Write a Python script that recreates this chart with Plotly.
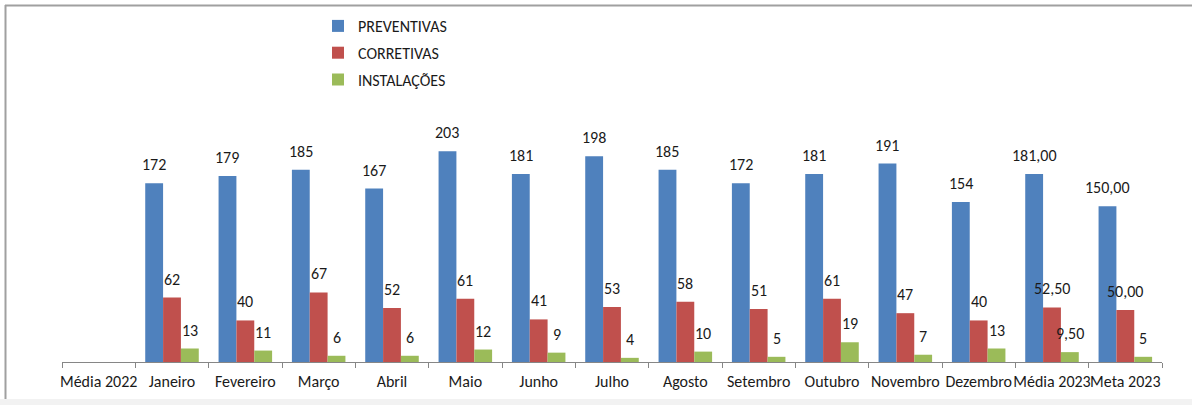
import plotly.graph_objects as go

categorias = ["Média 2022", "Janeiro", "Fevereiro", "Março", "Abril", "Maio", "Junho",
              "Julho", "Agosto", "Setembro", "Outubro", "Novembro", "Dezembro",
              "Média 2023", "Meta 2023"]

preventivas = [None, 172, 179, 185, 167, 203, 181, 198, 185, 172, 181, 191, 154, 181.00, 150.00]
corretivas = [None, 62, 40, 67, 52, 61, 41, 53, 58, 51, 61, 47, 40, 52.50, 50.00]
instalacoes = [None, 13, 11, 6, 6, 12, 9, 4, 10, 5, 19, 7, 13, 9.50, 5]

# casas decimais exibidas em cada rótulo
dec_preventivas = [0] * 13 + [2, 2]
dec_corretivas = [0] * 13 + [2, 2]
dec_instalacoes = [0] * 13 + [2, 0]

series = [
    ("PREVENTIVAS", preventivas, dec_preventivas, "#4F81BD"),
    ("CORRETIVAS", corretivas, dec_corretivas, "#C0504D"),
    ("INSTALAÇÕES", instalacoes, dec_instalacoes, "#9BBB59"),
]

FONT = "Liberation Sans Narrow, Carlito, Arial Narrow, Liberation Sans, sans-serif"

W, H = 1192, 405
ML, MR, MT, MB = 62, 30, 40, 43
YMAX = 310
BARGAP = 0.27


def fmt(v, d):
    return f"{v:.{d}f}".replace(".", ",")


fig = go.Figure()
for i, (nome, vals, decs, cor) in enumerate(series):
    fig.add_trace(go.Bar(
        name=nome, x=categorias, y=vals, marker_color=cor,
        marker_line_width=0, legendgroup=nome,
    ))

# rótulos de valor acima de cada barra
cat_w = (W - ML - MR) / len(categorias)
bar_w = cat_w * (1 - BARGAP) / len(series)
annotations = []
for i, (nome, vals, decs, cor) in enumerate(series):
    for c, v, d in zip(categorias, vals, decs):
        if v is None:
            continue
        annotations.append(dict(
            x=c, y=v, xref="x", yref="y", text=fmt(v, d), showarrow=False,
            xanchor="center", yanchor="bottom", xshift=(i - 1) * bar_w, yshift=7,
            font=dict(family=FONT, size=16, color="#1a1a1a"),
        ))

plot_h = H - MT - MB
plot_w = W - ML - MR


def px_x(px):
    return (px - ML) / plot_w


def px_y(py):
    return (H - MB - py) / plot_h


shapes = [
    # moldura cinza (topo e lateral esquerda)
    dict(type="line", xref="paper", yref="paper", x0=px_x(5), x1=px_x(W + 5),
         y0=px_y(5.5), y1=px_y(5.5), line=dict(color="#a0a0a0", width=2)),
    dict(type="line", xref="paper", yref="paper", x0=px_x(5.5), x1=px_x(5.5),
         y0=px_y(5), y1=px_y(399), line=dict(color="#a0a0a0", width=2)),
    dict(type="rect", xref="paper", yref="paper", x0=px_x(0), x1=px_x(W),
         y0=px_y(399), y1=px_y(H + 2), line=dict(width=0), fillcolor="#f2f2f2", layer="below"),
]

fig.update_layout(
    width=W, height=H,
    margin=dict(l=ML, r=MR, t=MT, b=MB, autoexpand=False),
    paper_bgcolor="white", plot_bgcolor="white",
    barmode="group", bargap=BARGAP, bargroupgap=0,
    font=dict(family=FONT, size=16, color="#1a1a1a"),
    legend=dict(
        x=px_x(318), y=px_y(9), xanchor="left", yanchor="top",
        font=dict(family=FONT, size=16, color="#1a1a1a"),
        tracegroupgap=3, bgcolor="rgba(0,0,0,0)",
    ),
    annotations=annotations,
    shapes=shapes,
    xaxis=dict(
        type="category", showline=True, linecolor="#868686", linewidth=1,
        ticks="outside", tickson="boundaries", ticklen=5, tickcolor="#868686",
        tickangle=0, automargin=False, ticklabelstandoff=5,
        showgrid=False, tickfont=dict(family=FONT, size=16, color="#1a1a1a"),
    ),
    yaxis=dict(range=[0, YMAX], visible=False, showgrid=False, zeroline=False),
)

fig.write_html("out.html")
